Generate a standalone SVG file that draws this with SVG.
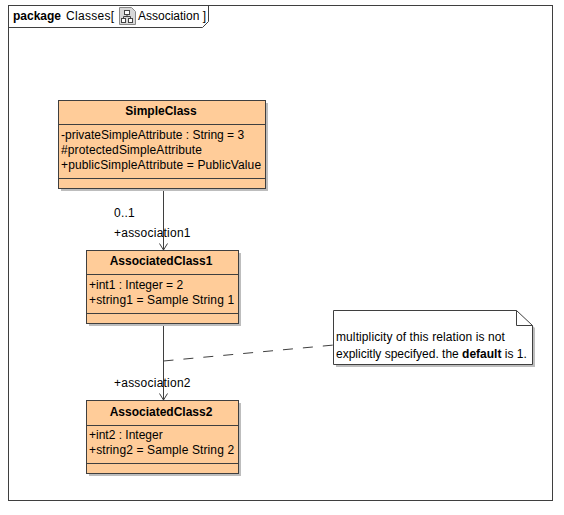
<svg xmlns="http://www.w3.org/2000/svg" width="564" height="515" viewBox="0 0 564 515">
<style>
text{font-family:"Liberation Sans",Arial,sans-serif;font-size:12px;fill:#000}
.t{font-weight:bold;text-anchor:middle}
.b{font-weight:bold}
.box{fill:#ffcc99;stroke:#3f3f3f;stroke-width:1}
.sh{fill:#bdbdbd}
.ln{fill:none;stroke:#3f3f3f;stroke-width:1}
.w{letter-spacing:.12px}
.a{letter-spacing:.23px}
</style>
<rect width="564" height="515" fill="#fff"/>
<g id="frame">
<rect x="8.5" y="5.5" width="544" height="495" fill="#fff" stroke="#3f3f3f"/>
<path class="ln" d="M8.5 27.500H202.500L208.500 21.500V5.500"/>
<text x="13" y="20" class="b">package</text>
<text x="66" y="20" letter-spacing=".3">Classes[</text>
<g id="diagram-icon" fill="none" stroke="#444">
<path d="M119.500 7.500H131.500L135.500 11.500V24.500H119.500Z" fill="#d8d8d8" stroke="#888"/>
<rect x="124.500" y="10.500" width="5" height="4" fill="#fff"/>
<rect x="121.500" y="18.500" width="4" height="4" fill="#fff"/>
<rect x="128.500" y="18.500" width="4" height="4" fill="#fff"/>
<path d="M127 14.500V16.500M123.500 18.500V16.500H130.500V18.500"/>
</g>
<text x="138" y="20">Association ]</text>
</g>
<g id="connectors">
<path class="ln" d="M163.500 188.500V250"/>
<path class="ln" d="M159.500 243.500L163.500 250L167.500 243.500"/>
<path class="ln" d="M163.500 323.500V400"/>
<path class="ln" d="M159.500 393.500L163.500 400L167.500 393.500"/>
<path class="ln" stroke-dasharray="10 10" d="M163.500 361L334 345"/>
<text x="114" y="217" class="a">0..1</text>
<text x="114" y="237" class="a">+association1</text>
<text x="114" y="387" class="a">+association2</text>
</g>
<g id="SimpleClass">
<rect class="sh" x="61" y="103" width="207" height="88"/>
<rect class="box" x="58.500" y="100.500" width="207" height="88"/>
<path class="ln" d="M58.500 124.500H265.500M58.500 178.500H265.500"/>
<text class="t" x="161" y="115">SimpleClass</text>
<text x="61" y="139">-privateSimpleAttribute : String = 3</text>
<text x="61" y="154" class="w">#protectedSimpleAttribute</text>
<text x="61" y="169" class="w">+publicSimpleAttribute = PublicValue</text>
</g>
<g id="AssociatedClass1">
<rect class="sh" x="89" y="253" width="152" height="73"/>
<rect class="box" x="86.500" y="250.500" width="152" height="73"/>
<path class="ln" d="M86.500 274.500H238.500M86.500 313.500H238.500"/>
<text class="t" x="161" y="265">AssociatedClass1</text>
<text x="89" y="289">+int1 : Integer = 2</text>
<text x="89" y="304" class="w">+string1 = Sample String 1</text>
</g>
<g id="AssociatedClass2">
<rect class="sh" x="89" y="403" width="152" height="73"/>
<rect class="box" x="86.500" y="400.500" width="152" height="73"/>
<path class="ln" d="M86.500 425.500H238.500M86.500 463.500H238.500"/>
<text class="t" x="161" y="416">AssociatedClass2</text>
<text x="89" y="439">+int2 : Integer</text>
<text x="89" y="454" class="w">+string2 = Sample String 2</text>
</g>
<g id="note">
<path class="sh" d="M336 313H518L535 328V367H336Z"/>
<path d="M333.500 310.500H516.500L532.500 325.500V364.500H333.500Z" fill="#fff" stroke="#3f3f3f"/>
<path class="ln" d="M516.500 310.500V325.500H532.500"/>
<text x="336" y="341" letter-spacing=".1">multiplicity of this relation is not</text>
<text x="336" y="358">explicitly specifyed. the <tspan class="b">default</tspan> is 1.</text>
</g>
</svg>
